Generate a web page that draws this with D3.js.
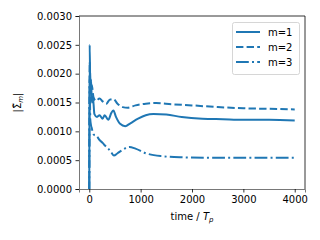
<!DOCTYPE html>
<html>
<head>
<meta charset="utf-8">
<script src="https://cdn.jsdelivr.net/npm/d3@7"></script>
<style>
body { margin: 0; background: #fff; }
svg { font-family: "DejaVu Sans", sans-serif; }
</style>
</head>
<body>
<svg width="320" height="240"></svg>
<script>
// series values as [time, |Sigma_m|]
const m1 = [[0,0],[8,0.0025],[20,0.0017],[35,0.0019],[50,0.0015],[70,0.0016],[100,0.0013],[150,0.00125],[200,0.00128],[260,0.00122],[300,0.00128],[370,0.0012],[430,0.00132],[470,0.00136],[520,0.00125],[600,0.00113],[700,0.00109],[800,0.00114],[950,0.00122],[1100,0.00128],[1250,0.0013],[1500,0.00129],[1800,0.00125],[2200,0.00122],[2600,0.00121],[3000,0.0012],[3500,0.0012],[4000,0.00119]]
const m2 = [[0,0],[8,0.0022],[20,0.0019],[35,0.0017],[50,0.0018],[80,0.0016],[130,0.00153],[200,0.00157],[260,0.00152],[330,0.00148],[400,0.00155],[470,0.00156],[550,0.00148],[650,0.00142],[750,0.00141],[900,0.00145],[1100,0.00148],[1300,0.00149],[1600,0.00147],[2000,0.00145],[2500,0.00142],[3000,0.0014],[3500,0.00139],[4000,0.00138]]
const m3 = [[0,0],[8,0.0019],[20,0.0012],[35,0.0011],[50,0.00105],[80,0.00095],[150,0.00091],[200,0.00085],[260,0.0008],[310,0.00075],[370,0.0007],[430,0.00063],[480,0.00058],[550,0.00062],[650,0.00068],[780,0.00073],[900,0.0007],[1100,0.00062],[1400,0.00057],[1800,0.00055],[2500,0.00054],[3000,0.00054],[3500,0.00054],[4000,0.00054]]
const seriesNames = ["m=1", "m=2", "m=3"]
const xTicks = [0, 1000, 2000, 3000, 4000]
const yTicks = [0, 0.0005, 0.001, 0.0015, 0.002, 0.0025, 0.003]

const svg = d3.select("svg")
const mLeft = 79, mRight = 305, mTop = 16, mBottom = 189
const color = "#1f77b4"
const dashes = [null, "7.4,3.2", "12.8,3.2,2,3.2"]

const x = d3.scaleLinear().domain([-200, 4200]).range([mLeft, mRight])
const y = d3.scaleLinear().domain([0, 0.003]).range([mBottom, mTop])

const line = d3.line().x(d => x(d[0])).y(d => y(d[1])).curve(d3.curveMonotoneX)

const plot = svg.append("g")
;[m1, m2, m3].forEach((s, i) => {
    plot.append("path")
        .attr("d", line(s))
        .attr("fill", "none")
        .attr("stroke", color)
        .attr("stroke-width", 2)
        .attr("stroke-dasharray", dashes[i])
})

// axes
const xAxis = svg.append("g")
    .attr("transform", `translate(0,${mBottom})`)
    .call(d3.axisBottom(x).tickValues(xTicks).tickSize(3.5).tickPadding(3.5).tickFormat(d3.format("d")))
const yAxis = svg.append("g")
    .attr("transform", `translate(${mLeft},0)`)
    .call(d3.axisLeft(y).tickValues(yTicks).tickSize(3.5).tickPadding(3.5).tickFormat(d3.format(".4f")))
;[xAxis, yAxis].forEach(a => {
    a.selectAll("text").attr("font-size", 10).attr("fill", "#000").attr("font-family", "DejaVu Sans")
    a.selectAll("line").attr("stroke", "#000").attr("stroke-width", 0.8)
    a.select(".domain").attr("stroke", "#555").attr("stroke-width", 0.8)
})
svg.append("path")
    .attr("d", `M${mLeft},${mTop}H${mRight}V${mBottom}`)
    .attr("fill", "none")
    .attr("stroke", "#000")
    .attr("stroke-width", 0.8)

// labels
svg.append("text")
    .attr("x", (mLeft + mRight) / 2)
    .attr("y", 220)
    .attr("text-anchor", "middle")
    .attr("font-size", 10)
    .html('time / <tspan font-style="italic">T</tspan><tspan font-style="italic" font-size="7" dy="2">p</tspan>')

svg.append("text")
    .attr("transform", `translate(21,${(mTop + mBottom) / 2}) rotate(-90)`)
    .attr("text-anchor", "middle")
    .attr("font-size", 10)
    .html('|Σ\u0303<tspan font-style="italic" font-size="7" dy="2">m</tspan><tspan dy="-2">|</tspan>')

// legend
const lg = svg.append("g")
lg.append("rect")
    .attr("x", 232.5).attr("y", 22.5)
    .attr("width", 67).attr("height", 52)
    .attr("rx", 2)
    .attr("fill", "#fff").attr("fill-opacity", 0.8)
    .attr("stroke", "#ccc").attr("stroke-width", 0.8)
seriesNames.forEach((n, i) => {
    const ly = 32 + i * 15
    lg.append("line")
        .attr("x1", 236).attr("x2", 260)
        .attr("y1", ly).attr("y2", ly)
        .attr("stroke", color).attr("stroke-width", 2)
        .attr("stroke-dasharray", dashes[i])
    lg.append("text")
        .attr("x", 268).attr("y", ly + 3.5)
        .attr("font-size", 10)
        .text(n)
})
</script>
</body>
</html>
